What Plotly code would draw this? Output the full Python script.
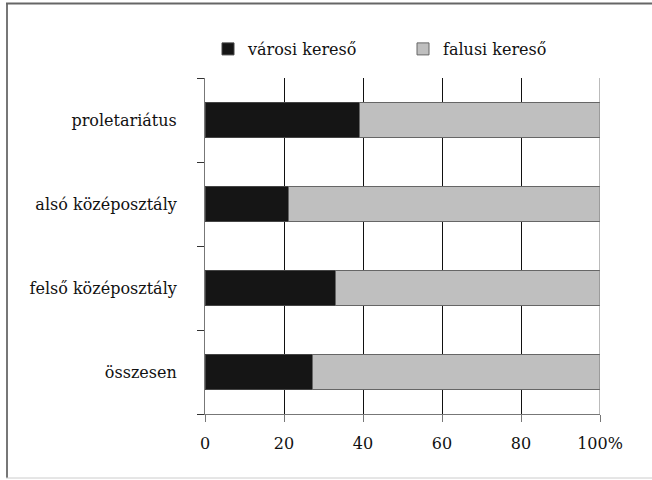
import plotly.graph_objects as go

# Share of earners by residence within each social stratum (%)
categories = ["proletariátus", "alsó középosztály", "felső középosztály", "összesen"]
varosi = [39.0, 21.1, 33.1, 27.1]
falusi = [61.0, 78.9, 66.9, 72.9]
x_ticks = [0, 20, 40, 60, 80, 100]
x_tick_labels = ["0", "20", "40", "60", "80", "100%"]

FONT = "DejaVu Serif, serif"

fig = go.Figure()
fig.add_trace(go.Bar(
    y=categories, x=varosi, orientation="h", name="városi kereső",
    width=0.405, marker=dict(color="#151515", line=dict(color="#444", width=1)),
    legend="legend",
))
fig.add_trace(go.Bar(
    y=categories, x=falusi, orientation="h", name="falusi kereső",
    width=0.405, marker=dict(color="#bfbfbf", line=dict(color="#666", width=1)),
    legend="legend2",
))

L, R, T, B = 205, 52, 78, 66
W, H = 652, 480
pw, ph = W - L - R, H - T - B

def px_x(p):
    return (p - L) / pw

def px_y(p):
    return (H - B - p) / ph

legend_style = dict(
    orientation="h", xanchor="left", yanchor="top",
    font=dict(family=FONT, size=16, color="#111"),
    itemwidth=30, bgcolor="rgba(0,0,0,0)",
)

fig.update_layout(
    width=W, height=H,
    margin=dict(l=L, r=R, t=T, b=B, autoexpand=False),
    paper_bgcolor="white", plot_bgcolor="white",
    barmode="stack",
    font=dict(family=FONT, size=16, color="#111"),
    showlegend=True,
    legend=dict(x=px_x(208), y=px_y(32), **legend_style),
    legend2=dict(x=px_x(403), y=px_y(32), **legend_style),
    xaxis=dict(
        range=[0, 100], tickvals=x_ticks, ticktext=x_tick_labels,
        showgrid=True, gridcolor="#111", gridwidth=1,
        zeroline=False, showline=True, linecolor="#777", linewidth=1,
        ticks="outside", ticklen=7, tickcolor="#777", tickwidth=1,
        ticklabelstandoff=8,
        fixedrange=True,
    ),
    yaxis=dict(
        categoryorder="array", categoryarray=categories[::-1],
        tickson="boundaries", ticks="outside", ticklen=7, tickcolor="#333", tickwidth=1,
        showline=True, linecolor="#777", linewidth=1,
        showgrid=False, zeroline=False,
        ticklabelstandoff=24,
        fixedrange=True,
    ),
    shapes=[
        # right-hand frame line at 100%
        dict(type="line", xref="x", yref="paper", x0=100, x1=100, y0=0, y1=1,
             line=dict(color="#777", width=1), layer="above"),
        # outer border
        dict(type="line", xref="paper", yref="paper", x0=px_x(7), x1=px_x(7),
             y0=px_y(3), y1=px_y(478), line=dict(color="#777", width=2)),
        dict(type="line", xref="paper", yref="paper", x0=px_x(6), x1=px_x(660),
             y0=px_y(3.5), y1=px_y(3.5), line=dict(color="#666", width=2)),
        dict(type="line", xref="paper", yref="paper", x0=px_x(6), x1=px_x(660),
             y0=px_y(478), y1=px_y(478), line=dict(color="#ccc", width=1)),
    ],
)

fig.write_html("out.html")
